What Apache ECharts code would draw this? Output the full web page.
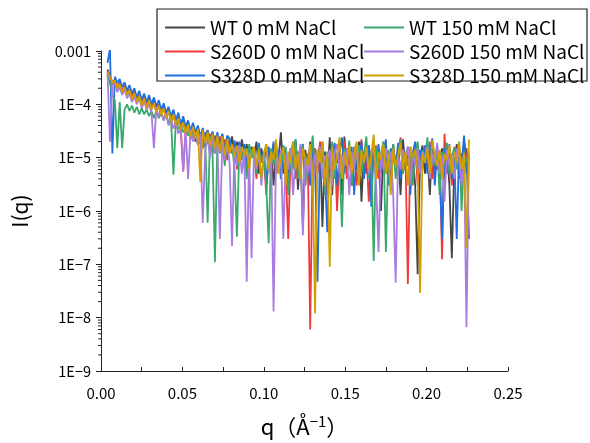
<!DOCTYPE html>
<html><head><meta charset="utf-8">
<script src="https://cdn.jsdelivr.net/npm/echarts@6/dist/echarts.min.js"></script>
<style>html,body{margin:0;padding:0;background:#fff}#c{width:590px;height:443px}</style>
</head><body><div id="c"></div><script>
const q = [
0.0040,0.0055,0.0070,0.0085,0.0100,0.0115,0.0130,0.0145,0.0160,0.0175,
0.0190,0.0205,0.0220,0.0235,0.0250,0.0265,0.0280,0.0295,0.0310,0.0325,
0.0340,0.0355,0.0370,0.0385,0.0400,0.0415,0.0430,0.0445,0.0460,0.0475,
0.0490,0.0505,0.0520,0.0535,0.0550,0.0565,0.0580,0.0595,0.0610,0.0625,
0.0640,0.0655,0.0670,0.0685,0.0700,0.0715,0.0730,0.0745,0.0760,0.0775,
0.0790,0.0805,0.0820,0.0835,0.0850,0.0865,0.0880,0.0895,0.0910,0.0925,
0.0940,0.0955,0.0970,0.0985,0.1000,0.1015,0.1030,0.1045,0.1060,0.1075,
0.1090,0.1105,0.1120,0.1135,0.1150,0.1165,0.1180,0.1195,0.1210,0.1225,
0.1240,0.1255,0.1270,0.1285,0.1300,0.1315,0.1330,0.1345,0.1360,0.1375,
0.1390,0.1405,0.1420,0.1435,0.1450,0.1465,0.1480,0.1495,0.1510,0.1525,
0.1540,0.1555,0.1570,0.1585,0.1600,0.1615,0.1630,0.1645,0.1660,0.1675,
0.1690,0.1705,0.1720,0.1735,0.1750,0.1765,0.1780,0.1795,0.1810,0.1825,
0.1840,0.1855,0.1870,0.1885,0.1900,0.1915,0.1930,0.1945,0.1960,0.1975,
0.1990,0.2005,0.2020,0.2035,0.2050,0.2065,0.2080,0.2095,0.2110,0.2125,
0.2140,0.2155,0.2170,0.2185,0.2200,0.2215,0.2230,0.2245,0.2260];

const wt0 = [
4.5e-4,3.2e-4,2.4e-4,2.9e-4,2e-4,2.6e-4,1.7e-4,2.2e-4,1.5e-4,1.9e-4,
1.3e-4,1.7e-4,1.1e-4,1.5e-4,1e-4,1.35e-4,9e-5,1.3e-4,8e-5,1.15e-4,
7e-5,1e-4,6e-5,9e-5,5.5e-5,8e-5,4.5e-5,7e-5,3.8e-5,5.8e-5,
3e-5,5e-5,2.8e-5,4.5e-5,2.2e-5,4e-5,2e-5,3.8e-5,1.8e-5,3.3e-5,
1.6e-5,3.2e-5,1.4e-5,3e-5,1.2e-5,2.7e-5,1.3e-5,2.8e-5,1e-5,2.4e-5,
1.4e-5,2.5e-5,1e-5,2e-5,9e-6,2.2e-5,1.1e-5,1.8e-5,7e-6,1.6e-5,
1e-5,2e-5,5e-6,1.5e-5,8e-6,1.8e-5,6e-6,1.3e-5,3e-6,1.6e-5,
9e-6,3e-5,5e-6,1.2e-5,4e-6,1.5e-5,7e-6,2e-5,2.5e-6,1.2e-5,
5e-7,1.4e-5,6e-6,2e-5,3e-6,1.1e-5,7e-6,1.8e-5,5e-7,1.3e-5,
4e-6,2.4e-5,2e-6,1.5e-5,8e-6,1.2e-5,2e-6,2.5e-5,6e-6,1.4e-5,
3e-6,1.1e-5,6e-6,2e-5,1.5e-6,1.3e-5,5e-6,1.7e-5,8e-6,2.2e-5,
4e-6,1.2e-5,1e-6,1.6e-5,5e-6,1.2e-5,3e-6,1.8e-5,7e-6,1.3e-5,
2e-6,2.2e-5,6e-6,1.5e-5,4e-6,1.1e-5,3e-6,6.5e-8,1e-5,1.7e-5,
5e-6,1.3e-5,2e-6,2e-5,6e-6,1.1e-5,8e-6,1.5e-5,4e-6,1.4e-5,
3e-6,1.3e-7,7e-6,1.8e-5,4e-6,1.2e-5,5e-6,1.5e-5,3e-7];

const s260d0 = [
4.2e-4,3.5e-4,2.6e-4,2.8e-4,2.1e-4,2.5e-4,1.8e-4,2.3e-4,1.5e-4,1.9e-4,
1.4e-4,1.8e-4,1.2e-4,1.5e-4,1e-4,1.4e-4,9.5e-5,1.2e-4,8.5e-5,1.1e-4,
7.5e-5,1e-4,6.5e-5,8.5e-5,6e-5,7.5e-5,5e-5,6.5e-5,4e-5,5.5e-5,
3.5e-5,5.5e-6,3.3e-5,4.5e-5,2.6e-5,4e-5,2.2e-5,3.5e-5,2e-5,1.5e-5,
3e-5,1.8e-5,2.8e-5,1.2e-5,2.6e-5,1.6e-5,2.5e-5,1.3e-5,2.2e-5,9e-6,
2.1e-5,1.5e-5,1.8e-5,6e-6,1.9e-5,1.2e-5,1.6e-5,8e-6,1.5e-5,1e-5,
1.3e-5,4e-6,1.6e-5,9e-6,1.2e-5,2e-6,1.4e-5,7e-6,1.8e-5,5e-6,
1.2e-5,8e-6,1.5e-5,6e-6,3e-7,1.1e-5,2e-5,4e-6,1.3e-5,7e-6,
1.6e-5,3e-6,1.2e-5,6e-9,1e-5,1.5e-5,5e-6,2e-5,8e-6,1.1e-5,
2e-6,1.4e-5,6e-6,1.8e-5,1e-6,1.2e-5,9e-6,2e-5,4e-6,1.3e-5,
7e-6,1.6e-5,3e-6,1.1e-5,2.2e-5,5e-6,1.4e-5,1.5e-6,1.2e-5,8e-6,
1.7e-5,4e-6,1e-5,2e-5,6e-6,1.3e-5,2.5e-6,1.5e-5,7e-6,1.1e-5,
2.4e-5,5e-6,1.2e-5,4.3e-8,1.4e-5,9e-6,1.8e-5,3e-6,1.1e-5,6e-6,
1.5e-5,8e-6,2e-5,4e-6,1.2e-5,6e-6,1.3e-5,1.25e-7,2.8e-5,5e-6,
1.2e-5,3e-6,1.6e-5,8e-6,1.1e-5,5e-6,2.2e-5,9e-6,1.3e-5];

const s328d0 = [
6e-4,1.1e-3,1.2e-5,3.3e-4,2.5e-4,3e-4,2.1e-4,2.6e-4,1.8e-4,2.3e-4,
1.6e-4,2e-4,1.35e-4,1.8e-4,1.2e-4,1.6e-4,1.1e-4,1.5e-4,1e-4,1.35e-4,
9e-5,1.2e-4,8e-5,1.05e-4,7e-5,9e-5,6e-5,8e-5,5e-5,7e-5,
4.2e-5,6e-5,3.8e-5,5e-5,3.2e-5,4.5e-5,3e-5,4e-5,2.5e-5,3.6e-5,
2.2e-5,3.3e-5,2e-5,3.1e-5,1.6e-5,3e-5,1.5e-5,2.8e-5,1.3e-5,2.6e-5,
2.3e-5,1.2e-5,2.1e-5,1e-5,2e-5,1.1e-5,1.8e-5,7e-6,1.7e-5,1e-5,
1.5e-5,5e-6,1.9e-5,8e-6,1.3e-5,3e-6,1.6e-5,9e-6,2e-5,6e-6,
1.4e-5,4e-6,1.7e-5,1e-5,2.5e-6,1.5e-5,7e-6,2.2e-5,5e-6,1.2e-5,
1.8e-5,6e-6,1.1e-5,3e-6,1.5e-5,8e-6,4.7e-8,1.3e-5,2e-5,6e-6,
4e-7,1.4e-5,7e-6,1.9e-5,3e-6,1.2e-5,2.4e-5,5e-6,1.5e-5,9e-6,
1.6e-5,2e-6,1.3e-5,7e-6,2e-5,4e-6,1.1e-5,1.7e-5,1.2e-6,1.4e-5,
8e-6,1.8e-5,5e-6,1.2e-5,2.2e-5,3e-6,1.5e-5,1e-5,7e-6,1.9e-5,
4e-6,1.3e-5,9e-6,1.6e-5,2e-6,1.2e-5,2e-5,6e-6,1.4e-5,8e-6,
1.7e-5,5e-6,1.1e-5,2.3e-5,3e-6,1.3e-5,6e-6,3e-7,1.5e-5,9e-6,
1.8e-5,4e-6,1.2e-5,3e-7,1.6e-5,7e-6,2.6e-5,5e-6,1.1e-5];

const wt150 = [
3.5e-4,2.5e-4,1.5e-4,1.2e-4,1.5e-5,1.1e-4,1.5e-5,8e-5,1e-4,7.5e-5,
9.5e-5,7e-5,9e-5,6.5e-5,8.5e-5,6.5e-5,8e-5,6e-5,7.5e-5,5.5e-5,
7.5e-5,5.5e-5,7e-5,5e-5,6.5e-5,4.5e-5,5.5e-5,4.8e-6,5e-5,3.5e-5,
4e-5,3e-5,3.6e-5,2.6e-5,3.3e-5,2.2e-5,3e-5,1.8e-5,2.8e-5,1.5e-5,
2.4e-5,6e-7,2.6e-5,1.3e-5,1.1e-7,2.3e-5,1.2e-5,2.2e-5,7e-6,2.2e-5,
1.2e-5,1.8e-5,6e-6,3.3e-7,1.7e-5,9e-6,1.5e-5,4e-6,1.8e-5,1e-5,
1.4e-5,5e-6,1.6e-5,8e-6,1.2e-5,3e-6,2.5e-7,1.5e-5,7e-6,2e-5,
5e-6,1.3e-5,9e-6,1.6e-5,2e-6,1.2e-5,6e-6,2.2e-5,4e-6,1.1e-5,
1.7e-5,3e-6,1.2e-5,7e-6,2.6e-5,5e-6,1.4e-5,9e-6,1.9e-5,2e-6,
1.3e-5,6e-6,2e-5,4e-6,1.2e-5,8e-6,5e-7,1.5e-5,7e-6,2.1e-5,
3e-6,1.4e-5,9e-6,1.7e-5,5e-6,1.1e-5,2.5e-5,4e-6,1.3e-5,1.15e-7,
1.6e-5,6e-6,1.2e-5,2e-5,1.7e-7,1.4e-5,8e-6,1.8e-5,4e-6,1.1e-5,
2.2e-5,5e-6,1.3e-5,7e-6,1.6e-5,3e-6,1.2e-5,2e-5,6e-6,1.4e-5,
9e-6,2.4e-5,4e-6,1.2e-5,7e-6,1.7e-5,2e-6,1.3e-5,8e-6,1.9e-5,
5e-6,1.1e-5,1.5e-5,6e-6,2e-5,1e-6,1.3e-5,8e-6,1.2e-5];

const s260d150 = [
4e-4,2e-5,2.3e-4,2.5e-4,1.7e-4,2.1e-4,1.5e-4,1.9e-4,1.3e-4,1.6e-4,
1.1e-4,1.4e-4,1e-4,1.3e-4,8.5e-5,1.15e-4,8e-5,1e-4,7e-5,1.5e-5,
8.5e-5,6e-5,7.5e-5,5e-5,6.5e-5,4e-5,5.5e-5,3.5e-5,4.6e-5,2.8e-5,
3.8e-5,5.5e-6,3.4e-5,4e-6,3.2e-5,2e-5,3e-5,1.7e-5,2.8e-5,6e-7,
1.4e-5,2.4e-5,1e-5,2.5e-5,1.2e-5,2.2e-5,3e-7,2e-5,9e-6,2e-5,
8e-6,2.2e-7,1.6e-5,7e-6,1.7e-5,5e-6,1.4e-5,4.7e-8,1.2e-5,1.3e-7,
1.5e-5,6e-6,1.3e-5,3e-6,1.1e-5,1.6e-5,5e-6,1.2e-5,1.3e-8,1e-5,
7e-6,1.4e-5,3e-7,1.2e-5,6e-6,1.5e-5,2e-6,1.1e-5,8e-6,1.8e-5,
3.5e-7,1e-5,5e-6,1.3e-5,2e-6,1.2e-5,7e-6,1.6e-5,4e-6,1.1e-5,
9e-6,1.4e-5,3e-6,1.2e-5,1.8e-5,5e-6,1.1e-5,7e-6,1.5e-5,2e-6,
1.3e-5,6e-6,1.6e-5,4e-6,1.2e-5,9e-6,1.4e-5,5e-6,1.1e-5,1.7e-5,
3e-6,1.7e-7,1.2e-5,6e-6,1.5e-5,8e-6,1.3e-5,2e-6,4.5e-8,1.1e-5,
6e-6,1.4e-5,9e-6,1.6e-5,3e-6,1.2e-5,7e-6,1.5e-5,5e-6,1.3e-5,
1e-5,1.6e-5,4e-6,1.2e-5,8e-6,1.9e-5,5e-6,1.1e-5,1.5e-6,1.4e-5,
7e-6,1.2e-5,4e-6,1.5e-5,9e-6,3e-6,1.2e-5,6.6e-9,1e-5];

const s328d150 = [
4e-4,3.3e-4,2.5e-4,2.8e-4,2e-4,2.4e-4,1.7e-4,2.1e-4,1.5e-4,1.85e-4,
1.25e-4,1.6e-4,1.1e-4,1.45e-4,9.5e-5,1.3e-4,8.5e-5,1.2e-4,8e-5,1.05e-4,
7e-5,9.5e-5,6.2e-5,8.5e-5,5.5e-5,7.5e-5,4.8e-5,6.5e-5,4e-5,5.5e-5,
3.3e-5,4.6e-5,2.9e-5,4.2e-5,2.5e-5,3.8e-5,2.3e-5,3.5e-5,3.5e-6,3.3e-5,
1.9e-5,3e-5,1.7e-5,2.8e-5,1.5e-5,2.6e-5,1.3e-5,2.5e-5,1.1e-5,2.2e-5,
1.2e-5,1.8e-5,1e-5,1.7e-5,8e-6,1.6e-5,1.1e-5,1.5e-5,6e-6,1.3e-5,
1.6e-5,7e-6,1.4e-5,4e-6,1.2e-5,1.8e-5,6e-6,1.3e-5,9e-6,2.2e-5,
5e-6,1.1e-5,1.6e-5,3e-6,1.3e-5,8e-6,2e-5,6e-6,1.2e-5,4e-6,
1.5e-5,1e-5,7e-6,1.8e-5,5e-6,1.2e-8,1.4e-5,8e-6,2e-5,3e-6,
1.2e-5,9e-8,1.6e-5,6e-6,1.1e-5,2.4e-5,4e-6,1.3e-5,7e-6,1.7e-5,
5e-6,1.2e-5,2e-5,3e-6,1.4e-5,8e-6,1.6e-5,6e-6,1.1e-5,2.7e-5,
4e-6,1.3e-5,9e-6,1.8e-5,5e-6,1.2e-5,2e-6,1.5e-5,7e-6,1.1e-5,
1.9e-5,6e-6,1.3e-5,3e-6,1.6e-5,1e-5,1.4e-5,6e-6,2.9e-8,1.2e-5,
8e-6,1.5e-5,5e-6,2.1e-5,1.1e-5,7e-6,1.4e-5,4e-6,1.2e-5,9e-6,
1.7e-5,5e-6,1.3e-5,8e-6,1.9e-5,6e-6,1.2e-5,2e-7,2.2e-5];

const seriesNames = ['WT 0 mM NaCl','S260D 0 mM NaCl','S328D 0 mM NaCl','WT 150 mM NaCl','S260D 150 mM NaCl','S328D 150 mM NaCl'];
const seriesValues = [wt0, s260d0, s328d0, wt150, s260d150, s328d150];
const seriesColors = ['#454545','#ee3a3a','#1f6fe0','#3aa86b','#a97ce0','#d39e00'];

// minor tick positions of the log axis (2..9 within each decade)
const yMinor = [];
for (let d = -9; d < -3; d++) for (let m = 2; m <= 9; m++) yMinor.push([0, m * Math.pow(10, d)]);

const FONT = '"Noto Sans CJK JP","Noto Sans",sans-serif';
const chart = echarts.init(document.getElementById('c'), null, {renderer: 'canvas'});

const series = seriesNames.map((name, k) => ({
  name, type: 'line', symbol: 'none', showSymbol: false, clip: true,
  color: seriesColors[k],
  lineStyle: {width: 1.8, color: seriesColors[k]},
  data: q.map((x, i) => [x, seriesValues[k][i]]),
  animation: false
}));
series.push({
  type: 'custom', silent: true, animation: false, clip: false,
  data: yMinor,
  renderItem: (params, api) => {
    const p = api.coord([0, api.value(1)]);
    return {type: 'line', shape: {x1: p[0] - 3, y1: p[1], x2: p[0], y2: p[1]},
      style: {stroke: '#222', lineWidth: 1}};
  }
});

const legendCommon = {
  orient: 'vertical', itemWidth: 40, itemHeight: 14, itemGap: 3,
  icon: 'path://M0,0 L40,0 L40,2 L0,2 Z',
  textStyle: {fontFamily: FONT, fontSize: 19, color: '#000', lineHeight: 21},
  selectedMode: false
};

chart.setOption({
  backgroundColor: '#fff',
  animation: false,
  textStyle: {fontFamily: FONT},
  grid: {left: 101, right: 82, top: 51, bottom: 71, containLabel: false},
  graphic: [{type: 'rect', shape: {x: 157, y: 9, width: 430, height: 72},
    style: {fill: 'none', stroke: '#222', lineWidth: 1.2}, z: 100}],
  legend: [
    Object.assign({}, legendCommon, {data: seriesNames.slice(0, 3), left: 160, top: 12, itemGap: 3}),
    Object.assign({}, legendCommon, {data: seriesNames.slice(3), left: 359, top: 12, itemGap: 3})
  ],
  xAxis: {
    type: 'value', min: 0, max: 0.25, interval: 0.05,
    name: '{a|q（Å}{s|−1}{a|）}', nameLocation: 'middle', nameGap: 43,
    nameTextStyle: {rich: {
      a: {fontFamily: FONT, fontSize: 22, color: '#000', lineHeight: 26},
      s: {fontFamily: FONT, fontSize: 15, color: '#000', lineHeight: 26, verticalAlign: 'top'}
    }},
    axisLine: {show: true, lineStyle: {color: '#222', width: 1}},
    axisTick: {show: true, inside: true, length: 4, lineStyle: {color: '#222'}},
    minorTick: {show: true, splitNumber: 2, length: 4, lineStyle: {color: '#222'}},
    splitLine: {show: false},
    axisLabel: {fontFamily: FONT, fontSize: 15, color: '#000', margin: 15,
      formatter: v => v.toFixed(2)}
  },
  yAxis: {
    type: 'log', logBase: 10, min: 1e-9, max: 1e-3,
    name: 'I(q)', nameLocation: 'middle', nameGap: 70, nameRotate: 90,
    nameTextStyle: {fontFamily: FONT, fontSize: 21, color: '#000'},
    axisLine: {show: true, onZero: false, lineStyle: {color: '#222', width: 1}},
    axisTick: {show: true, inside: false, length: 5, lineStyle: {color: '#222'}},
    splitLine: {show: false},
    axisLabel: {fontFamily: FONT, fontSize: 14.5, color: '#000', margin: 10,
      formatter: v => {
        const e = Math.round(Math.log10(v));
        return e === -3 ? '0.001' : '1E−' + (-e);
      }}
  },
  series
});
</script></body></html>
